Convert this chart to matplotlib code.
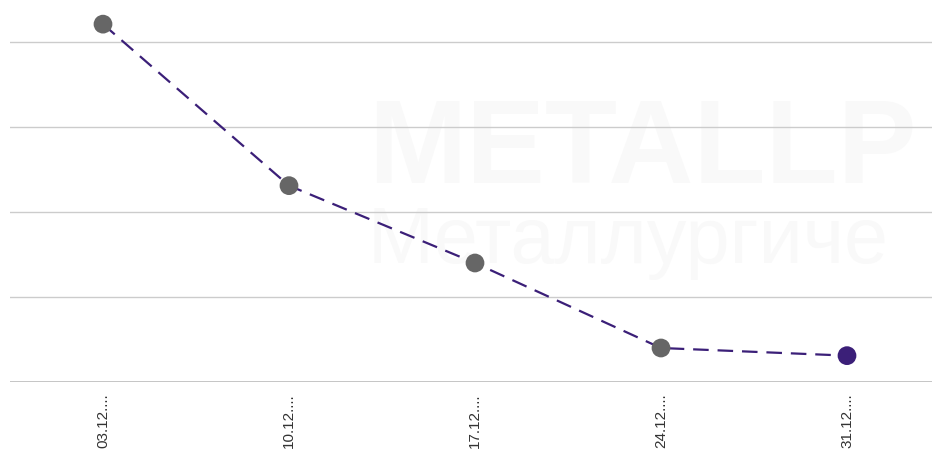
import matplotlib
matplotlib.use("Agg")
import matplotlib.pyplot as plt

# Data
categories = ["03.12....", "10.12....", "17.12....", "24.12....", "31.12...."]
values = [4.21, 2.31, 1.40, 0.40, 0.31]
grid_levels = [0, 1, 2, 3, 4]

line_color = "#3b1f78"
marker_colors = ["#666666", "#666666", "#666666", "#666666", "#3b1f78"]

W, H = 932, 455
fig = plt.figure(figsize=(W / 100, H / 100), dpi=100)
fig.patch.set_facecolor("white")

# faint watermark
fig.text(368 / W, 1 - 183 / H, "METALLP", fontsize=85, fontweight="bold",
         family="Liberation Sans", color="#f9f9f9", ha="left", va="baseline", zorder=0)
fig.text(368 / W, 1 - 263 / H, "Металлургиче", fontsize=57,
         family="Liberation Sans", color="#f9f9f9", ha="left", va="baseline", zorder=0)

ax = fig.add_axes([10 / W, 1 - 382 / H, (W - 10) / W, 382 / H])
ax.set_zorder(1)
ax.patch.set_alpha(0)
x = list(range(len(categories)))

ax.plot(x, values, color=line_color, lw=1.6, dashes=(7, 4), zorder=2)
ax.scatter(x, values, s=(13.5) ** 2, c=marker_colors, zorder=3, linewidths=0)

for g in grid_levels[1:]:
    ax.axhline(g, color="#cccccc", lw=1, zorder=1)
ax.axhline(0, color="#bbbbbb", lw=1.2, zorder=1)

ax.set_xlim(-0.5, (932 - 103) / 186)
ax.set_ylim(0, 382 / 85)
for s in ax.spines.values():
    s.set_visible(False)
ax.set_yticks([])
ax.set_xticks(x)
ax.set_xticklabels(categories, rotation=90, fontsize=11, color="#333333",
                   family="Liberation Sans")
ax.tick_params(axis="x", length=0, pad=8)

fig.savefig("out.png", dpi=100)
